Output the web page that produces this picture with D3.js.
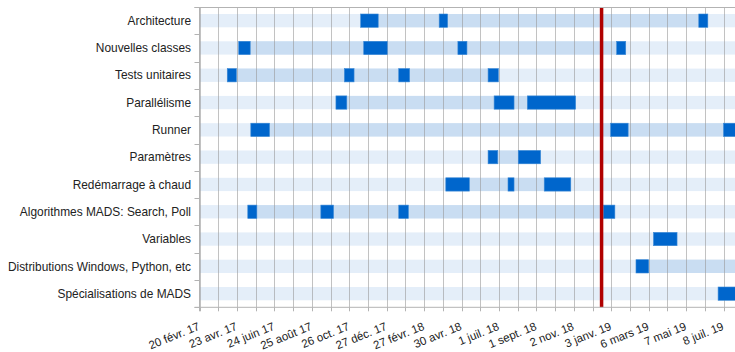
<!DOCTYPE html>
<html>
<head>
<meta charset="utf-8">
<script src="https://cdn.jsdelivr.net/npm/d3@7"></script>
<style>
  html, body { margin: 0; padding: 0; background: #ffffff; }
  svg { display: block; }
  text { font-family: "Liberation Sans", Arial, sans-serif; fill: #222; }
</style>
</head>
<body>
<svg id="chart" width="735" height="352"></svg>
<script>
// ---- Data ----
const rows = [
  "Architecture",
  "Nouvelles classes",
  "Tests unitaires",
  "Parallélisme",
  "Runner",
  "Paramètres",
  "Redémarrage à chaud",
  "Algorithmes MADS: Search, Poll",
  "Variables",
  "Distributions Windows, Python, etc",
  "Spécialisations de MADS"
];

// dark blocks: [row, start, end]
const tasks = [
  ["Architecture", "2017-11-14", "2017-12-13"],
  ["Architecture", "2018-03-24", "2018-04-07"],
  ["Architecture", "2019-05-28", "2019-06-12"],
  ["Nouvelles classes", "2017-04-26", "2017-05-15"],
  ["Nouvelles classes", "2017-11-19", "2017-12-28"],
  ["Nouvelles classes", "2018-04-24", "2018-05-09"],
  ["Nouvelles classes", "2019-01-12", "2019-01-27"],
  ["Tests unitaires", "2017-04-07", "2017-04-22"],
  ["Tests unitaires", "2017-10-18", "2017-11-03"],
  ["Tests unitaires", "2018-01-16", "2018-02-03"],
  ["Tests unitaires", "2018-06-13", "2018-06-30"],
  ["Parallélisme", "2017-10-04", "2017-10-22"],
  ["Parallélisme", "2018-06-23", "2018-07-26"],
  ["Parallélisme", "2018-08-17", "2018-11-05"],
  ["Runner", "2017-05-16", "2017-06-16"],
  ["Runner", "2019-01-02", "2019-01-31"],
  ["Runner", "2019-07-08", "2019-08-10"],
  ["Paramètres", "2018-06-13", "2018-06-29"],
  ["Paramètres", "2018-08-02", "2018-09-08"],
  ["Redémarrage à chaud", "2018-04-04", "2018-05-13"],
  ["Redémarrage à chaud", "2018-07-16", "2018-07-26"],
  ["Redémarrage à chaud", "2018-09-14", "2018-10-28"],
  ["Algorithmes MADS: Search, Poll", "2017-05-11", "2017-05-26"],
  ["Algorithmes MADS: Search, Poll", "2017-09-09", "2017-09-30"],
  ["Algorithmes MADS: Search, Poll", "2018-01-16", "2018-02-01"],
  ["Algorithmes MADS: Search, Poll", "2018-12-21", "2019-01-09"],
  ["Variables", "2019-03-14", "2019-04-22"],
  ["Distributions Windows, Python, etc", "2019-02-13", "2019-03-06"],
  ["Spécialisations de MADS", "2019-06-29", "2019-08-15"]
];

// lighter spans (overall duration of each item): [row, start, end]
const spans = [
  ["Architecture", "2017-11-14", "2019-06-12"],
  ["Nouvelles classes", "2017-04-26", "2019-01-27"],
  ["Tests unitaires", "2017-04-07", "2018-06-30"],
  ["Parallélisme", "2017-10-04", "2018-11-05"],
  ["Runner", "2017-05-16", "2019-08-10"],
  ["Paramètres", "2018-06-13", "2018-09-08"],
  ["Redémarrage à chaud", "2018-04-04", "2018-10-28"],
  ["Algorithmes MADS: Search, Poll", "2017-05-11", "2019-01-09"],
  ["Distributions Windows, Python, etc", "2019-02-13", "2019-08-31"]
];

const today = "2018-12-18";

const tickDates = ["2017-02-20","2017-04-23","2017-06-24","2017-08-25","2017-10-26","2017-12-27",
  "2018-02-27","2018-04-30","2018-07-01","2018-09-01","2018-11-02","2019-01-03","2019-03-06",
  "2019-05-07","2019-07-08"];
const tickLabels = ["20 févr. 17","23 avr. 17","24 juin 17","25 août 17","26 oct. 17","27 déc. 17",
  "27 févr. 18","30 avr. 18","1 juil. 18","1 sept. 18","2 nov. 18","3 janv. 19","6 mars 19",
  "7 mai 19","8 juil. 19"];

const domainStart = "2017-02-20";
const domainEnd = "2019-07-27";

// ---- Layout ----
const W = 735, H = 352;
const plotL = 199.5, plotR = 735, plotT = 7, plotB = 307.3;
const barH = 13.3;

const parse = d3.timeParse("%Y-%m-%d");
const svg = d3.select("#chart");

const x = d3.scaleTime().domain([parse(domainStart), parse(domainEnd)]).range([plotL, plotR]);
const y = d3.scaleBand().domain(rows).range([plotT, plotB]).padding(0);
const barY = r => y(r) + (y.bandwidth() - barH) / 2;

svg.append("defs").append("clipPath").attr("id", "plotclip")
  .append("rect").attr("x", plotL).attr("y", 0).attr("width", plotR - plotL).attr("height", H);

const plot = svg.append("g").attr("clip-path", "url(#plotclip)");

// light row bands
plot.append("g").selectAll("rect").data(rows).join("rect")
  .attr("x", plotL).attr("width", plotR - plotL)
  .attr("y", d => barY(d)).attr("height", barH)
  .attr("fill", "#e4eef9");

// medium spans
plot.append("g").selectAll("rect").data(spans).join("rect")
  .attr("x", d => x(parse(d[1])))
  .attr("width", d => x(parse(d[2])) - x(parse(d[1])))
  .attr("y", d => barY(d[0])).attr("height", barH)
  .attr("fill", "#c9ddf2");

// gridlines every 31 days
const gridDates = d3.timeDay.range(parse(domainStart), d3.timeDay.offset(parse(domainEnd), 1), 31);
plot.append("g").selectAll("line").data(gridDates).join("line")
  .attr("x1", d => Math.round(x(d)) + 0.5).attr("x2", d => Math.round(x(d)) + 0.5)
  .attr("y1", plotT).attr("y2", plotB)
  .attr("stroke", "#9a9a9a").attr("stroke-opacity", 0.6).attr("stroke-width", 1);

// dark task blocks
plot.append("g").selectAll("rect").data(tasks).join("rect")
  .attr("x", d => x(parse(d[1])))
  .attr("width", d => x(parse(d[2])) - x(parse(d[1])))
  .attr("y", d => barY(d[0])).attr("height", barH)
  .attr("fill", "#0066cc")
  .attr("stroke", "#3d8ad6").attr("stroke-width", 0.6);

// today marker
plot.append("line")
  .attr("x1", x(parse(today))).attr("x2", x(parse(today)))
  .attr("y1", plotT).attr("y2", plotB)
  .attr("stroke", "#b00000").attr("stroke-width", 3.5);

// frame: top and left, bottom axis
const frame = svg.append("g").attr("stroke", "#b3b3b3").attr("stroke-width", 1).attr("fill", "none");
frame.append("line").attr("x1", plotL - 5).attr("x2", plotR).attr("y1", plotT + 0.5).attr("y2", plotT + 0.5);
frame.append("line").attr("x1", plotL).attr("x2", plotL).attr("y1", plotT).attr("y2", plotB + 4);
frame.append("line").attr("x1", plotL - 5).attr("x2", plotR).attr("y1", plotB).attr("y2", plotB);

// y ticks at row boundaries
const boundaries = rows.map(r => y(r)).concat([plotB]);
frame.selectAll("line.yt").data(boundaries).join("line").attr("class", "yt")
  .attr("x1", plotL - 5).attr("x2", plotL)
  .attr("y1", d => Math.round(d) + 0.5).attr("y2", d => Math.round(d) + 0.5);

// x ticks at gridlines
frame.selectAll("line.xt").data(gridDates).join("line").attr("class", "xt")
  .attr("x1", d => Math.round(x(d)) + 0.5).attr("x2", d => Math.round(x(d)) + 0.5)
  .attr("y1", plotB).attr("y2", plotB + 4);

// y labels
svg.append("g").selectAll("text").data(rows).join("text")
  .attr("x", plotL - 8.5)
  .attr("y", d => y(d) + y.bandwidth() / 2)
  .attr("dy", "0.35em")
  .attr("text-anchor", "end")
  .attr("font-size", 11.9)
  .text(d => d);

// x labels
svg.append("g").selectAll("text").data(tickDates).join("text")
  .attr("transform", d => `translate(${x(parse(d)) + 1},${plotB + 22}) rotate(-22)`)
  .attr("text-anchor", "end")
  .attr("font-size", 11.5)
  .text((d, i) => tickLabels[i]);
</script>
</body>
</html>
